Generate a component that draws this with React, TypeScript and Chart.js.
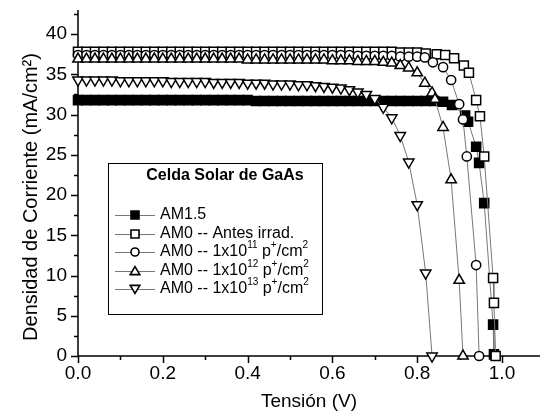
import React, { useEffect, useRef } from 'react';
import { Chart, registerables } from 'chart.js';

Chart.register(...registerables);

// Voltage grid (V) used for the flat part of the curves
const V_GRID = [
  0.00, 0.02, 0.04, 0.06, 0.08, 0.10, 0.12, 0.14, 0.16, 0.18,
  0.20, 0.22, 0.24, 0.26, 0.28, 0.30, 0.32, 0.34, 0.36, 0.38,
  0.40, 0.42, 0.44, 0.46, 0.48, 0.50, 0.52, 0.54, 0.56, 0.58,
  0.60, 0.62, 0.64, 0.66, 0.68, 0.70, 0.72, 0.74, 0.76, 0.78,
  0.80, 0.82, 0.84,
];

// AM1.5 (filled squares)
const AM15_FLAT_I = [
  31.8, 31.8, 31.8, 31.8, 31.8, 31.8, 31.8, 31.8, 31.8, 31.8,
  31.8, 31.8, 31.8, 31.8, 31.8, 31.8, 31.8, 31.8, 31.8, 31.8,
  31.8, 31.7, 31.7, 31.7, 31.7, 31.7, 31.7, 31.7, 31.7, 31.7,
  31.7, 31.7, 31.7, 31.7, 31.7, 31.7, 31.7, 31.7, 31.7, 31.7,
  31.7, 31.7, 31.7,
];
const AM15_KNEE_V = [0.861, 0.882, 0.913, 0.920, 0.939, 0.946, 0.958, 0.979, 0.981];
const AM15_KNEE_I = [31.6, 31.2, 29.9, 29.1, 26.0, 24.0, 19.0, 3.9, 0.2];

// AM0 antes de irradiar (open squares)
const ANTES_FLAT_I = [
  37.8, 37.8, 37.8, 37.8, 37.8, 37.8, 37.8, 37.8, 37.8, 37.8,
  37.8, 37.8, 37.8, 37.8, 37.8, 37.8, 37.8, 37.8, 37.8, 37.8,
  37.8, 37.8, 37.8, 37.8, 37.8, 37.8, 37.8, 37.8, 37.8, 37.8,
  37.8, 37.8, 37.8, 37.8, 37.8, 37.8, 37.8, 37.8, 37.7, 37.7,
  37.7,
];
const ANTES_KNEE_V = [0.820, 0.846, 0.866, 0.887, 0.910, 0.922, 0.939, 0.948, 0.958, 0.979, 0.981, 0.985];
const ANTES_KNEE_I = [37.6, 37.5, 37.4, 37.0, 36.1, 35.2, 31.8, 29.8, 24.8, 9.7, 6.6, 0.0];

// AM0 1x10^11 (open circles)
const E11_FLAT_I = [
  37.4, 37.4, 37.4, 37.4, 37.4, 37.4, 37.4, 37.4, 37.4, 37.4,
  37.4, 37.4, 37.4, 37.4, 37.4, 37.4, 37.4, 37.4, 37.4, 37.4,
  37.4, 37.4, 37.4, 37.4, 37.4, 37.4, 37.4, 37.4, 37.4, 37.4,
  37.4, 37.4, 37.4, 37.3, 37.3, 37.3, 37.3, 37.3, 37.2, 37.2,
  37.2,
];
const E11_KNEE_V = [0.818, 0.837, 0.861, 0.880, 0.899, 0.908, 0.917, 0.939, 0.946];
const E11_KNEE_I = [37.1, 36.5, 35.9, 34.3, 31.3, 29.4, 24.8, 11.3, 0.0];

// AM0 1x10^12 (up triangles)
const E12_FLAT_I = [
  36.9, 36.9, 36.9, 36.9, 36.9, 36.9, 36.9, 36.9, 36.9, 36.9,
  36.9, 36.9, 36.9, 36.9, 36.9, 36.9, 36.9, 36.9, 36.9, 36.9,
  36.8, 36.8, 36.8, 36.8, 36.8, 36.8, 36.8, 36.8, 36.8, 36.8,
  36.7, 36.7, 36.7, 36.6, 36.6, 36.6,
];
const E12_KNEE_V = [0.72, 0.74, 0.76, 0.78, 0.800, 0.818, 0.835, 0.842, 0.861, 0.880, 0.899, 0.908];
const E12_KNEE_I = [36.5, 36.4, 36.1, 35.8, 35.2, 33.9, 32.7, 31.9, 28.4, 21.9, 9.4, 0.0];

// AM0 1x10^13 (down triangles)
const E13_FLAT_I = [
  34.3, 34.3, 34.3, 34.3, 34.3, 34.2, 34.2, 34.2, 34.2, 34.2,
  34.2, 34.1, 34.1, 34.1, 34.1, 34.1, 34.0, 34.0, 34.0, 34.0,
  33.9, 33.9, 33.9, 33.8, 33.8, 33.8, 33.7, 33.7, 33.6, 33.5,
  33.4, 33.3,
];
const E13_KNEE_V = [0.64, 0.66, 0.68, 0.70, 0.72, 0.74, 0.76, 0.78, 0.80, 0.82, 0.835];
const E13_KNEE_I = [33.1, 32.8, 32.5, 32.0, 30.9, 29.6, 27.4, 24.1, 18.8, 10.3, 0.0];

const X_TICK_LABELS = ['0.0', '0.2', '0.4', '0.6', '0.8', '1.0'];
const X_TITLE = 'Tensión (V)';
const Y_TITLE = 'Densidad de Corriente (mA/cm²)';
const LEGEND_TITLE = 'Celda Solar de GaAs';
const LEGEND_ITEMS = [
  [{ t: 'AM1.5' }],
  [{ t: 'AM0 -- Antes irrad.' }],
  [{ t: 'AM0 -- 1x10' }, { t: '11', sup: true }, { t: ' p' }, { t: '+', sup: true }, { t: '/cm' }, { t: '2', sup: true }],
  [{ t: 'AM0 -- 1x10' }, { t: '12', sup: true }, { t: ' p' }, { t: '+', sup: true }, { t: '/cm' }, { t: '2', sup: true }],
  [{ t: 'AM0 -- 1x10' }, { t: '13', sup: true }, { t: ' p' }, { t: '+', sup: true }, { t: '/cm' }, { t: '2', sup: true }],
];

const FONT = '"Liberation Sans", Arial, Helvetica, sans-serif';

function pts(flatI: number[], kneeV: number[], kneeI: number[]) {
  const vs = V_GRID.slice(0, flatI.length).concat(kneeV);
  const is = flatI.concat(kneeI);
  return vs.map((v, i) => ({ x: v, y: is[i] }));
}

type Marker = 'fsq' | 'osq' | 'circ' | 'tup' | 'tdn';
const MARKERS: Marker[] = ['fsq', 'osq', 'circ', 'tup', 'tdn'];

function drawMarker(ctx: CanvasRenderingContext2D, m: Marker, x: number, y: number, s: number) {
  ctx.save();
  ctx.lineWidth = 1.6;
  ctx.strokeStyle = '#000';
  ctx.fillStyle = m === 'fsq' ? '#000' : '#fff';
  ctx.beginPath();
  if (m === 'fsq' || m === 'osq') {
    ctx.rect(x - s / 2, y - s / 2, s, s);
  } else if (m === 'circ') {
    ctx.arc(x, y, s / 2, 0, Math.PI * 2);
  } else if (m === 'tup') {
    ctx.moveTo(x, y - s * 0.55);
    ctx.lineTo(x + s * 0.6, y + s * 0.45);
    ctx.lineTo(x - s * 0.6, y + s * 0.45);
    ctx.closePath();
  } else {
    ctx.moveTo(x, y + s * 0.55);
    ctx.lineTo(x + s * 0.6, y - s * 0.45);
    ctx.lineTo(x - s * 0.6, y - s * 0.45);
    ctx.closePath();
  }
  ctx.fill();
  ctx.stroke();
  ctx.restore();
}

const axesPlugin = {
  id: 'axesTicks',
  beforeDatasetsDraw(chart: any) {
    const { ctx, chartArea, scales } = chart;
    const x = scales.x;
    const y = scales.y;
    ctx.save();
    ctx.strokeStyle = '#000';
    ctx.lineWidth = 1.5;
    ctx.beginPath();
    ctx.moveTo(chartArea.left, chartArea.top);
    ctx.lineTo(chartArea.left, chartArea.bottom);
    ctx.moveTo(chartArea.left, chartArea.bottom);
    ctx.lineTo(chartArea.right, chartArea.bottom);
    for (let k = 0; k * 2.5 <= 43; k++) {
      const py = Math.round(y.getPixelForValue(k * 2.5)) + 0.5;
      const len = k % 2 === 0 ? 7 : 4;
      ctx.moveTo(chartArea.left - len, py);
      ctx.lineTo(chartArea.left, py);
    }
    for (let k = 0; k * 0.1 <= 1.09; k++) {
      const px = Math.round(x.getPixelForValue(k * 0.1)) + 0.5;
      const len = k % 2 === 0 ? 7 : 4;
      ctx.moveTo(px, chartArea.bottom);
      ctx.lineTo(px, chartArea.bottom + len);
    }
    ctx.stroke();
    // y-axis title
    ctx.fillStyle = '#000';
    ctx.font = `20px ${FONT}`;
    ctx.textAlign = 'center';
    ctx.textBaseline = 'middle';
    ctx.translate(31, 197);
    ctx.rotate(-Math.PI / 2);
    ctx.fillText(Y_TITLE, 0, 0);
    ctx.restore();
  },
};

const legendPlugin = {
  id: 'customLegend',
  afterDraw(chart: any) {
    const { ctx } = chart;
    const bx = 108, by = 163, bw = 214, bh = 151;
    ctx.save();
    ctx.fillStyle = '#fff';
    ctx.fillRect(bx, by, bw, bh);
    ctx.strokeStyle = '#000';
    ctx.lineWidth = 1;
    ctx.strokeRect(bx + 0.5, by + 0.5, bw, bh);
    ctx.fillStyle = '#000';
    ctx.textBaseline = 'middle';
    ctx.textAlign = 'center';
    ctx.font = `bold 16px ${FONT}`;
    ctx.fillText(LEGEND_TITLE, 225, 176);
    ctx.textAlign = 'left';
    const ys = [215, 234, 252, 271, 289];
    LEGEND_ITEMS.forEach((parts, i) => {
      const yy = ys[i];
      ctx.strokeStyle = '#777';
      ctx.lineWidth = 1;
      ctx.beginPath();
      ctx.moveTo(115, yy + 0.5);
      ctx.lineTo(155, yy + 0.5);
      ctx.stroke();
      drawMarker(ctx, MARKERS[i], 135, yy, 8);
      let tx = 160;
      parts.forEach((p: any) => {
        ctx.fillStyle = '#000';
        if (p.sup) {
          ctx.font = `10px ${FONT}`;
          ctx.fillText(p.t, tx, yy - 7);
        } else {
          ctx.font = `16px ${FONT}`;
          ctx.fillText(p.t, tx, yy);
        }
        tx += ctx.measureText(p.t).width;
      });
    });
    ctx.restore();
  },
};

export default function App() {
  const ref = useRef<HTMLCanvasElement | null>(null);
  useEffect(() => {
    if (!ref.current) return;
    const base = {
      borderColor: '#777',
      borderWidth: 1,
      pointBorderColor: '#000',
      pointBorderWidth: 1.5,
      tension: 0,
      clip: false as any,
      showLine: true,
    };
    const chart = new Chart(ref.current, {
      type: 'scatter',
      data: {
        datasets: [
          { ...base, label: 'AM1.5', data: pts(AM15_FLAT_I, AM15_KNEE_V, AM15_KNEE_I), pointStyle: 'rect', pointRadius: 6.4, pointBackgroundColor: '#000', order: 5 },
          { ...base, label: 'AM0 -- Antes irrad.', data: pts(ANTES_FLAT_I, ANTES_KNEE_V, ANTES_KNEE_I), pointStyle: 'rect', pointRadius: 6.4, pointBackgroundColor: '#fff', order: 4 },
          { ...base, label: 'AM0 -- 1x10^11', data: pts(E11_FLAT_I, E11_KNEE_V, E11_KNEE_I), pointStyle: 'circle', pointRadius: 4.6, pointBackgroundColor: '#fff', order: 3 },
          { ...base, label: 'AM0 -- 1x10^12', data: pts(E12_FLAT_I, E12_KNEE_V, E12_KNEE_I), pointStyle: 'triangle', pointRadius: 6, pointBackgroundColor: '#fff', order: 2 },
          { ...base, label: 'AM0 -- 1x10^13', data: pts(E13_FLAT_I, E13_KNEE_V, E13_KNEE_I), pointStyle: 'triangle', pointRotation: 180, pointRadius: 6, pointBackgroundColor: '#fff', order: 1 },
        ] as any,
      },
      options: {
        animation: false,
        responsive: false,
        events: [],
        layout: { autoPadding: false, padding: { top: 10, right: 0, left: 0, bottom: 0 } },
        plugins: { legend: { display: false }, tooltip: { enabled: false } },
        scales: {
          x: {
            type: 'linear',
            min: 0,
            max: 1.0896,
            afterFit: (s: any) => { s.height = 55; s.paddingLeft = 0; s.paddingRight = 0; },
            grid: { display: false, drawTicks: false },
            border: { display: false },
            ticks: {
              stepSize: 0.2,
              includeBounds: false,
              autoSkip: false,
              maxRotation: 0,
              padding: 6,
              color: '#000',
              font: { family: FONT, size: 19 },
              callback: (v: any) => X_TICK_LABELS[Math.round(Number(v) / 0.2)] ?? '',
            },
            title: {
              display: true,
              text: X_TITLE,
              color: '#000',
              font: { family: FONT, size: 19, lineHeight: 1 },
              padding: { top: 0, bottom: 0 },
            },
          },
          y: {
            type: 'linear',
            min: 0,
            max: 43,
            afterFit: (s: any) => { s.width = 78; s.paddingTop = 0; s.paddingBottom = 0; },
            grid: { display: false, drawTicks: false },
            border: { display: false },
            ticks: {
              stepSize: 5,
              includeBounds: false,
              padding: 11,
              color: '#000',
              font: { family: FONT, size: 19 },
              callback: (v: any) => String(v),
            },
            title: { display: false },
          },
        },
      } as any,
      plugins: [axesPlugin, legendPlugin],
    });
    return () => chart.destroy();
  }, []);
  return (
    <div style={{ position: 'fixed', left: 0, top: 0, width: 540, height: 411, background: '#fff' }}>
      <canvas ref={ref} width={540} height={411} style={{ display: 'block' }} />
    </div>
  );
}
